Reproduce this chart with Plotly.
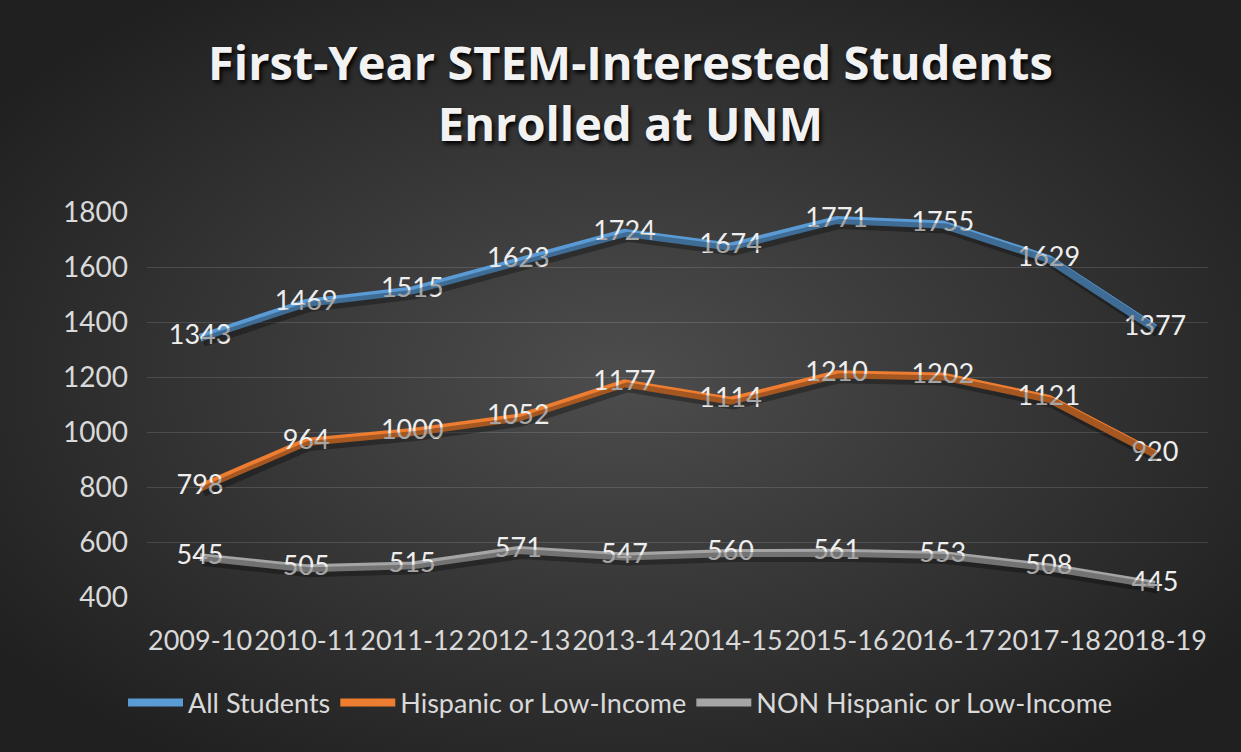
import base64
import plotly.graph_objects as go

years = ["2009-10", "2010-11", "2011-12", "2012-13", "2013-14",
         "2014-15", "2015-16", "2016-17", "2017-18", "2018-19"]
all_students = [1343, 1469, 1515, 1623, 1724, 1674, 1771, 1755, 1629, 1377]
hispanic_low_income = [798, 964, 1000, 1052, 1177, 1114, 1210, 1202, 1121, 920]
non_hispanic_low_income = [545, 505, 515, 571, 547, 560, 561, 553, 508, 445]
y_ticks = [400, 600, 800, 1000, 1200, 1400, 1600, 1800]

series = [
    ("All Students", all_students, "#5b9bd5"),
    ("Hispanic or Low-Income", hispanic_low_income, "#ed7d31"),
    ("NON Hispanic or Low-Income", non_hispanic_low_income, "#a5a5a5"),
]

FONT = "Lato"
W, H = 1241, 752
ML, MR, MT, MB = 147, 33, 212, 155
PW, PH = W - ML - MR, H - MT - MB
Y0, Y1 = 400, 1800
SH_X, SH_Y = 3, 4  # shadow offset in px
dy = SH_Y * (Y1 - Y0) / PH
dx = SH_X * 10 / PW

fig = go.Figure()
# soft drop shadows under the lines (same data, on an offset overlay axis)
for name, vals, color in series:
    fig.add_trace(go.Scatter(
        x=years, y=vals, mode="lines", showlegend=False, hoverinfo="skip",
        line=dict(color="rgba(0,0,0,0.3)", width=10),
        xaxis="x2", yaxis="y2",
    ))
for name, vals, color in series:
    fig.add_trace(go.Scatter(
        x=years, y=vals, name=name, mode="lines+text",
        line=dict(color=color, width=8),
        text=[str(v) for v in vals], textposition="middle center",
        textfont=dict(family=FONT, size=27, color="#eeeeee"),
        cliponaxis=False,
    ))

svg = """<svg xmlns='http://www.w3.org/2000/svg' width='1241' height='752'>
<defs><radialGradient id='g' cx='50%' cy='50%' r='62%'>
<stop offset='0%' stop-color='#4d4d4d'/><stop offset='100%' stop-color='#202020'/>
</radialGradient></defs><rect width='1241' height='752' fill='url(#g)'/></svg>"""
bg = "data:image/svg+xml;base64," + base64.b64encode(svg.encode()).decode()

fig.update_layout(
    width=W, height=H,
    paper_bgcolor="#2a2a2a", plot_bgcolor="rgba(0,0,0,0)",
    images=[dict(source=bg, xref="paper", yref="paper",
                 x=-ML / PW, y=1 + MT / PH, sizex=W / PW, sizey=H / PH,
                 xanchor="left", yanchor="top", sizing="stretch", layer="below")],
    margin=dict(l=ML, r=MR, t=MT, b=MB, autoexpand=False),
    title=dict(text="First-Year STEM-Interested Students<br>Enrolled at UNM",
               x=0.508, xanchor="center", xref="container",
               y=1 - 80 / H, yanchor="top", yref="container",
               font=dict(family="Open Sans", size=47, color="#f2f2f2", weight="bold",
                         shadow="2px 3px 4px #000000")),
    xaxis=dict(type="category", range=[-0.5, 9.5], showgrid=False, zeroline=False,
               showline=False, tickfont=dict(family=FONT, size=27, color="#d9d9d9"),
               ticks="", ticklabelstandoff=25, automargin=False),
    yaxis=dict(range=[Y0, Y1], tickvals=y_ticks,
               showgrid=True, gridcolor="rgba(255,255,255,0.13)", gridwidth=1,
               zeroline=False, showline=False, automargin=False,
               tickfont=dict(family=FONT, size=28, color="#d9d9d9"),
               ticklabelstandoff=18),
    xaxis2=dict(type="category", overlaying="x", range=[-0.5 - dx, 9.5 - dx],
                visible=False),
    yaxis2=dict(overlaying="y", range=[Y0 + dy, Y1 + dy], visible=False),
    legend=dict(orientation="h", x=0.5, xanchor="center", xref="container",
                y=1 - 703 / H, yanchor="middle", yref="container",
                font=dict(family=FONT, size=27, color="#d9d9d9"),
                bgcolor="rgba(0,0,0,0)", itemwidth=55, tracegroupgap=0),
    showlegend=True,
)

fig.write_html("out.html", config={"displayModeBar": False},
               post_script="document.body.style.margin='0';document.body.style.overflow='hidden';")
